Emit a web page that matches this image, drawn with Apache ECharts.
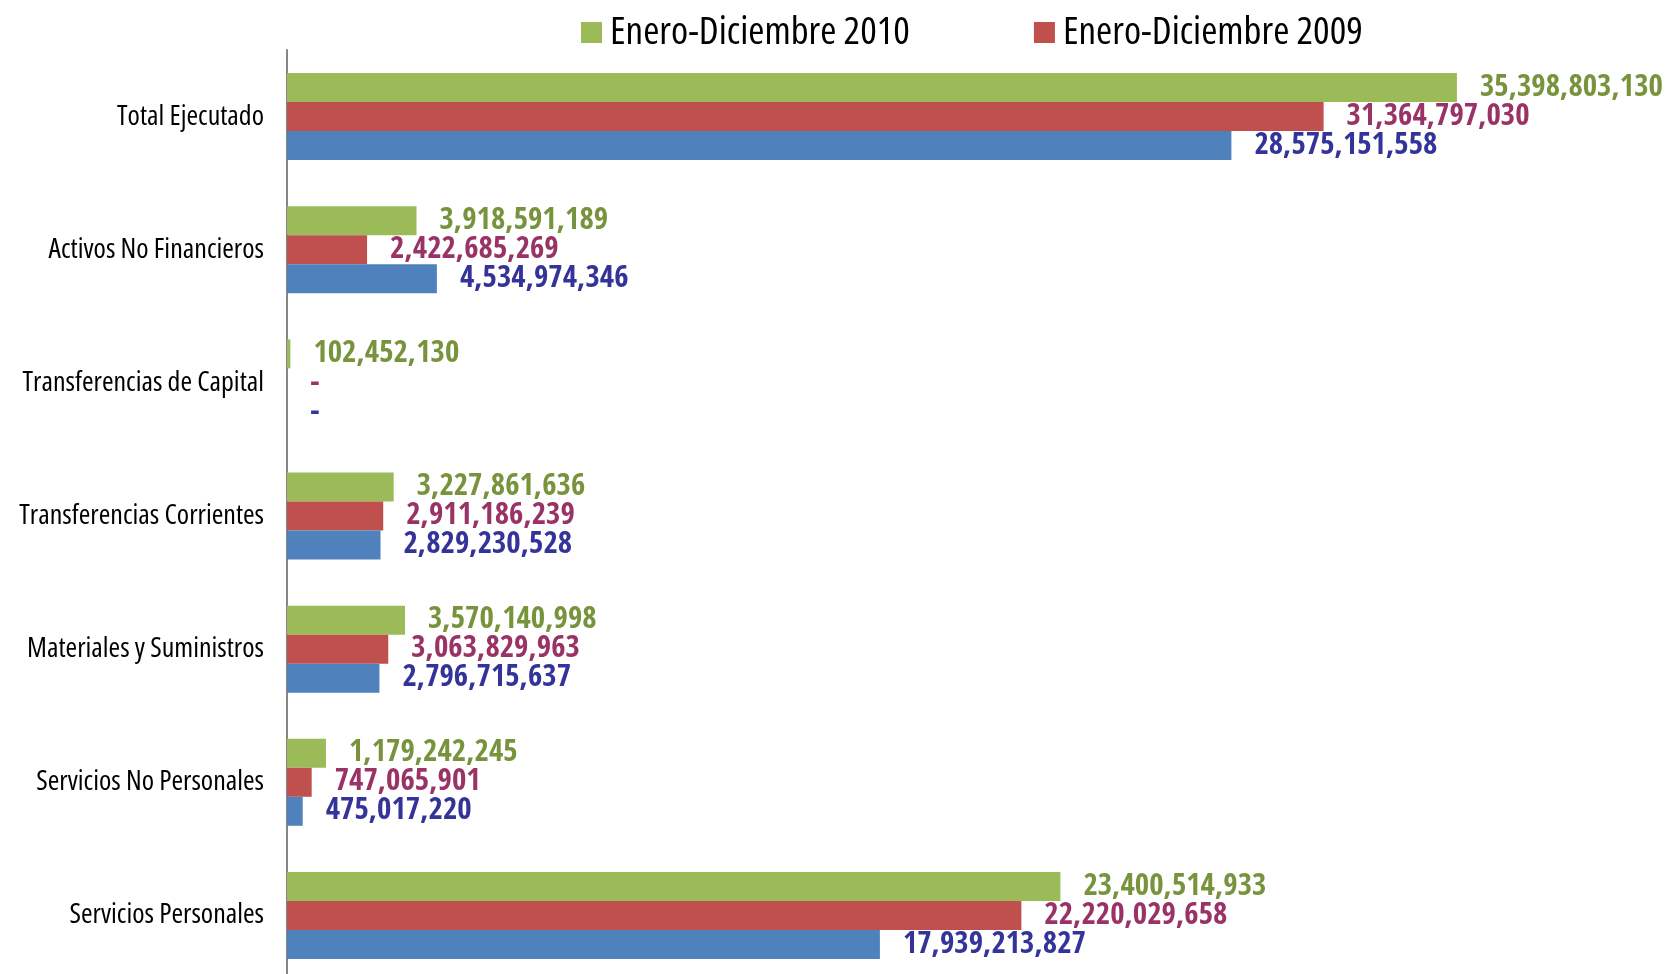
<!DOCTYPE html>
<html>
<head>
<meta charset="utf-8">
<script src="https://cdn.jsdelivr.net/npm/echarts@6/dist/echarts.min.js"></script>
<style>
html,body{margin:0;padding:0;background:#fff;}
#chart{width:1668px;height:974px;}
</style>
</head>
<body>
<div id="chart"></div>
<script>
const categories = ['Servicios Personales','Servicios No Personales','Materiales y Suministros','Transferencias Corrientes','Transferencias de Capital','Activos No Financieros','Total Ejecutado'];
const seriesNames = ['Enero-Diciembre 2010','Enero-Diciembre 2009','Enero-Diciembre 2008'];
const values2010 = [23400514933, 1179242245, 3570140998, 3227861636, 102452130, 3918591189, 35398803130];
const values2009 = [22220029658, 747065901, 3063829963, 2911186239, 0, 2422685269, 31364797030];
const values2008 = [17939213827, 475017220, 2796715637, 2829230528, 0, 4534974346, 28575151558];

const boldFont = '"Open Sans Condensed", "Open Sans", sans-serif';
const regFont = '"Open Sans", sans-serif';
const fmt = v => v === 0 ? '-' : v.toLocaleString('en-US');

function mk(name, data, color, labelColor) {
  return {
    name: name, type: 'bar', data: data, barWidth: 29, barGap: '0%',
    itemStyle: { color: color },
    label: { show: true, position: 'right', distance: 23, color: labelColor,
      fontFamily: boldFont, fontWeight: 'bold', fontStyle: 'condensed', fontSize: 31,
      formatter: p => fmt(p.value) }
  };
}

const chart = echarts.init(document.getElementById('chart'));
chart.setOption({
  animation: false,
  backgroundColor: '#ffffff',
  legend: {
    data: [seriesNames[0], seriesNames[1]],
    left: 576, top: 8, itemWidth: 21, itemHeight: 21, itemGap: 124,
    icon: 'rect',
    textStyle: { fontFamily: regFont, fontStyle: 'condensed', fontWeight: 'normal', fontSize: 39, color: '#000', padding: [0, 0, 0, 3] }
  },
  grid: { left: 287, top: 50, width: 1322, height: 932, containLabel: false, outerBoundsMode: 'none' },
  xAxis: { type: 'value', min: 0, max: 40000000000, show: false, splitLine: { show: false } },
  yAxis: {
    type: 'category', data: categories,
    axisLine: { show: true, lineStyle: { color: '#868686', width: 2 } },
    axisTick: { show: false },
    axisLabel: { fontFamily: regFont, fontStyle: 'condensed', fontWeight: 'normal', fontSize: 28, color: '#000', margin: 23 }
  },
  series: [
    mk(seriesNames[0], values2010, '#9BBB59', '#77933C'),
    mk(seriesNames[1], values2009, '#C0504D', '#993366'),
    mk(seriesNames[2], values2008, '#4F81BD', '#333399')
  ]
});
</script>
</body>
</html>
